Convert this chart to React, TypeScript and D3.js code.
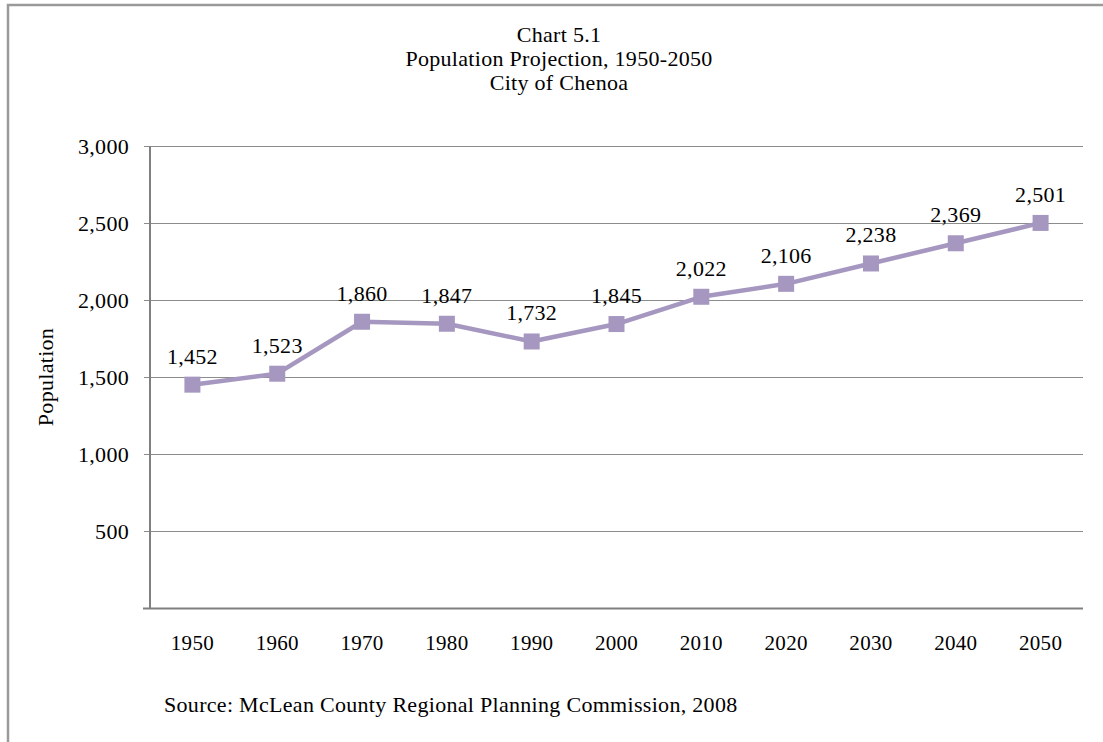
import { useEffect, useRef } from 'react';
import * as d3 from 'd3';

const years = ['1950', '1960', '1970', '1980', '1990', '2000', '2010', '2020', '2030', '2040', '2050'];
const population = [1452, 1523, 1860, 1847, 1732, 1845, 2022, 2106, 2238, 2369, 2501];
const yTicks = [0, 500, 1000, 1500, 2000, 2500, 3000];
const titleLines = ['Chart 5.1', 'Population Projection, 1950-2050', 'City of Chenoa'];
const sourceNote = 'Source: McLean County Regional Planning Commission, 2008';

const W = 1103;
const H = 742;
const FONT = '"Liberation Serif", "Times New Roman", serif';
const LINE_COLOR = '#a597c0';

export default function App() {
  const svgRef = useRef<SVGSVGElement>(null);

  useEffect(() => {
    if (!svgRef.current) return;
    const svg = d3.select(svgRef.current);
    svg.selectAll('*').remove();

    const plot = { left: 150, right: 1083, top: 146, bottom: 608.5 };

    // outer frame
    svg.append('rect')
      .attr('x', 8).attr('y', 5)
      .attr('width', W + 10).attr('height', H + 10)
      .attr('fill', '#fff')
      .attr('stroke', '#9a9a9a')
      .attr('stroke-width', 2.5);

    const txt = (sel: any, size = 22) =>
      sel.style('font-family', FONT).style('font-size', `${size}px`).style('letter-spacing', '0.3px');

    // title
    svg.append('g')
      .selectAll('text')
      .data(titleLines)
      .enter().append('text')
      .attr('x', 559)
      .attr('y', (_, i) => 42 + i * 24)
      .attr('text-anchor', 'middle')
      .call(txt)
      .text(d => d);

    const x = d3.scalePoint<string>()
      .domain(years)
      .range([plot.left, plot.right])
      .padding(0.5);

    const y = d3.scaleLinear()
      .domain([0, 3000])
      .range([plot.bottom, plot.top]);

    // gridlines
    svg.append('g')
      .selectAll('line')
      .data(yTicks.filter(t => t > 0))
      .enter().append('line')
      .attr('x1', plot.left - 6)
      .attr('x2', plot.right)
      .attr('y1', d => Math.round(y(d)) + 0.5)
      .attr('y2', d => Math.round(y(d)) + 0.5)
      .attr('stroke', '#8c8c8c')
      .attr('stroke-width', 1);

    // axes lines
    svg.append('line')
      .attr('x1', plot.left).attr('x2', plot.left)
      .attr('y1', plot.top).attr('y2', plot.bottom)
      .attr('stroke', '#808080').attr('stroke-width', 2);
    svg.append('line')
      .attr('x1', plot.left - 7).attr('x2', plot.right)
      .attr('y1', plot.bottom).attr('y2', plot.bottom)
      .attr('stroke', '#808080').attr('stroke-width', 2);

    // y tick labels (no label at zero)
    svg.append('g')
      .selectAll('text')
      .data(yTicks.filter(t => t > 0))
      .enter().append('text')
      .attr('x', 129)
      .attr('y', d => y(d) + 7.5)
      .attr('text-anchor', 'end')
      .call(txt)
      .text(d => d3.format(',')(d));

    // x tick labels
    svg.append('g')
      .selectAll('text')
      .data(years)
      .enter().append('text')
      .attr('x', d => x(d) as number)
      .attr('y', 650)
      .attr('text-anchor', 'middle')
      .call(txt, 21)
      .text(d => d);

    // y axis title
    svg.append('text')
      .attr('transform', 'translate(53,377) rotate(-90)')
      .attr('text-anchor', 'middle')
      .call(txt)
      .text('Population');

    const pts = years.map((yr, i) => ({ yr, v: population[i] }));

    const line = d3.line<{ yr: string; v: number }>()
      .x(d => x(d.yr) as number)
      .y(d => y(d.v));

    svg.append('path')
      .datum(pts)
      .attr('fill', 'none')
      .attr('stroke', LINE_COLOR)
      .attr('stroke-width', 4.5)
      .attr('stroke-linejoin', 'round')
      .attr('d', line);

    const size = 16;
    svg.append('g')
      .selectAll('rect')
      .data(pts)
      .enter().append('rect')
      .attr('x', d => (x(d.yr) as number) - size / 2)
      .attr('y', d => y(d.v) - size / 2)
      .attr('width', size)
      .attr('height', size)
      .attr('fill', LINE_COLOR);

    // data labels
    svg.append('g')
      .selectAll('text')
      .data(pts)
      .enter().append('text')
      .attr('x', d => x(d.yr) as number)
      .attr('y', d => y(d.v) - 21)
      .attr('text-anchor', 'middle')
      .call(txt)
      .text(d => d3.format(',')(d.v));

    // source note
    svg.append('text')
      .attr('x', 164)
      .attr('y', 712)
      .call(txt)
      .text(sourceNote);
  }, []);

  return (
    <svg
      ref={svgRef}
      width={W}
      height={H}
      style={{ position: 'absolute', left: 0, top: 0, background: '#fff' }}
    />
  );
}
